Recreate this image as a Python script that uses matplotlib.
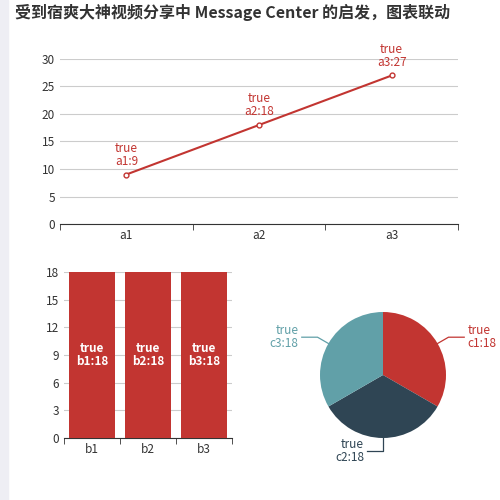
import numpy as np
import matplotlib.pyplot as plt

plt.rcParams['font.family'] = ['Microsoft YaHei', 'Noto Sans CJK SC', 'DejaVu Sans']

RED, DARK, TEAL = '#c23531', '#2f4554', '#61a0a8'
line_cats = ['a1', 'a2', 'a3']
line_vals = [9, 18, 27]
bar_cats = ['b1', 'b2', 'b3']
bar_vals = [18, 18, 18]
pie_cats = ['c1', 'c2', 'c3']
pie_vals = [18, 18, 18]

fig = plt.figure(figsize=(5, 5), dpi=100)
fig.patches.append(plt.Rectangle((0, 0), 0.016, 1, transform=fig.transFigure,
                                 color='#eeeef4', zorder=0))
fig.text(0.03, 0.975, '受到宿爽大神视频分享中 Message Center 的启发，图表联动',
         fontsize=11.5, fontweight='bold', color='#333333', va='center')

def style(ax):
    for s in ['top', 'right']:
        ax.spines[s].set_visible(False)
    ax.spines['left'].set_visible(False)
    ax.spines['bottom'].set_color('#333333')
    ax.tick_params(colors='#333333', labelsize=8.5, length=4)
    ax.tick_params(axis='y', length=0)
    ax.grid(axis='y', color='#cccccc', lw=0.8)
    ax.set_axisbelow(True)

# line chart
ax1 = fig.add_axes([0.12, 0.552, 0.796, 0.33])
x = np.arange(len(line_cats))
ax1.plot(x, line_vals, color=RED, lw=1.5, marker='o', ms=3.5,
         mfc='white', mec=RED, zorder=3)
for xi, v, c in zip(x, line_vals, line_cats):
    ax1.annotate(f'true\n{c}:{v}', (xi, v), xytext=(0, 5), textcoords='offset points',
                 ha='center', va='bottom', color=RED, fontsize=8.5, linespacing=1.0)
ax1.set_xlim(-0.5, 2.5)
ax1.set_ylim(0, 30)
ax1.set_yticks(range(0, 31, 5))
ax1.set_xticks(x, line_cats)
ax1.set_xticks([-0.5, 0.5, 1.5, 2.5], minor=True)
ax1.tick_params(axis='x', which='major', length=0)
ax1.tick_params(axis='x', which='minor', length=4, colors='#333333')
style(ax1)
ax1.tick_params(axis='x', which='major', length=0)

# bar chart
ax2 = fig.add_axes([0.128, 0.124, 0.336, 0.332])
xb = np.arange(len(bar_cats))
ax2.bar(xb, bar_vals, width=0.82, color=RED, zorder=3)
for xi, v, c in zip(xb, bar_vals, bar_cats):
    ax2.text(xi, v / 2, f'true\n{c}:{v}', ha='center', va='center', color='white',
             fontsize=8.5, fontweight='bold', linespacing=1.0, zorder=4)
ax2.set_xlim(-0.5, 2.5)
ax2.set_ylim(0, 18)
ax2.set_yticks(range(0, 19, 3))
ax2.set_xticks(xb, bar_cats)
ax2.set_xticks([-0.5, 0.5, 1.5, 2.5], minor=True)
style(ax2)
ax2.tick_params(axis='x', which='major', length=0)
ax2.tick_params(axis='x', which='minor', length=4, colors='#333333')

# pie chart
ax3 = fig.add_axes([0.64, 0.124, 0.252, 0.252])
wedges, _ = ax3.pie(pie_vals, colors=[RED, DARK, TEAL], startangle=90,
                    counterclock=False, wedgeprops=dict(lw=0))
ax3.set_aspect('equal')
ax3.set_xlim(-1, 1)
ax3.set_ylim(-1, 1)
cols = [RED, DARK, TEAL]
for w, c, v, col in zip(wedges, pie_cats, pie_vals, cols):
    ang = np.deg2rad((w.theta1 + w.theta2) / 2)
    px, py = np.cos(ang), np.sin(ang)
    ex, ey = 1.2 * px, 1.2 * py
    side = 1 if px >= 0 else -1
    tx = ex + side * 0.25
    ax3.plot([px, ex, tx], [py, ey, ey], color=col, lw=0.9, clip_on=False)
    ax3.text(tx + side * 0.05, ey, f'true\n{c}:{v}', ha='left' if side > 0 else 'right',
             va='center', color=col, fontsize=8.5, linespacing=1.0)

fig.savefig('out.png', dpi=100)
